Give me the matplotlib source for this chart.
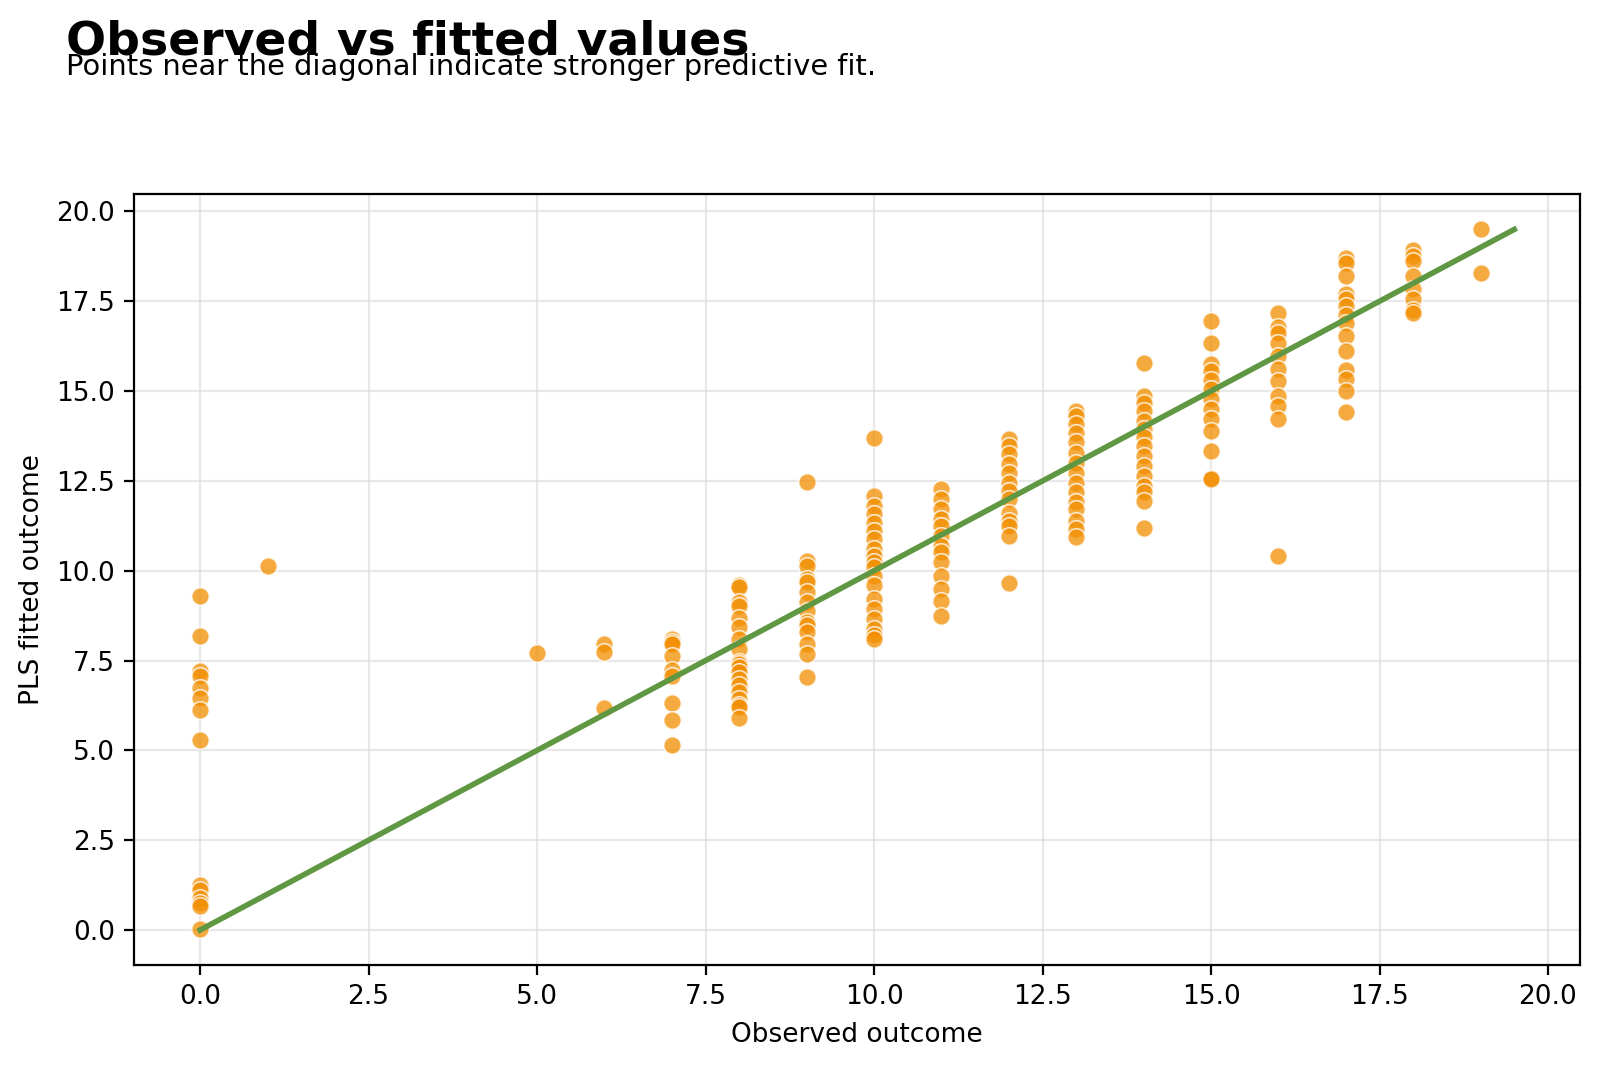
import numpy as np
import matplotlib
matplotlib.use("Agg")
import matplotlib.pyplot as plt

# fitted values, grouped by observed outcome
fit_0 = [9.29, 8.19, 7.2, 7.07, 6.74, 6.46, 6.13, 5.3, 1.25, 1.11, 0.88, 0.74, 0.66, 0.03]
fit_1 = [10.12]
fit_5 = [7.71]
fit_6 = [7.96, 7.73, 6.19]
fit_7 = [8.1, 8.01, 7.95, 7.64, 7.25, 7.08, 6.33, 5.84, 5.14]
fit_8 = [9.6, 9.54, 9.12, 9.03, 8.68, 8.43, 8.1, 7.83, 7.45, 7.4, 7.32, 7.18, 7.0,
         6.81, 6.62, 6.44, 6.26, 6.2, 5.9]
fit_9 = [12.48, 10.28, 10.14, 9.77, 9.7, 9.4, 9.12, 8.89, 8.57, 8.5, 8.29, 7.96,
         7.69, 7.04]
fit_10 = [13.7, 12.08, 11.8, 11.57, 11.34, 11.11, 10.88, 10.6, 10.42, 10.23, 10.1,
          9.86, 9.59, 9.21, 8.94, 8.66, 8.38, 8.2, 8.1]
fit_11 = [12.27, 11.99, 11.71, 11.43, 11.25, 10.97, 10.69, 10.51, 10.23, 9.86,
          9.49, 9.17, 8.75]
fit_12 = [13.66, 13.47, 13.24, 12.96, 12.73, 12.45, 12.22, 11.99, 11.62, 11.39,
          11.25, 10.97, 9.65]
fit_13 = [14.45, 14.31, 14.08, 13.84, 13.57, 13.29, 13.01, 12.73, 12.45, 12.18,
          11.9, 11.71, 11.39, 11.16, 10.93]
fit_14 = [15.79, 14.86, 14.68, 14.45, 14.17, 13.94, 13.71, 13.47, 13.2, 12.92,
          12.64, 12.36, 12.18, 11.93, 11.2]
fit_15 = [16.95, 16.34, 15.74, 15.55, 15.32, 15.05, 14.77, 14.49, 14.21, 13.89,
          13.33, 12.57, 12.55]
fit_16 = [17.18, 16.78, 16.62, 16.35, 15.98, 15.61, 15.29, 14.87, 14.58, 14.21, 10.42]
fit_17 = [18.7, 18.57, 18.19, 17.69, 17.55, 17.36, 17.13, 16.9, 16.53, 16.11,
          15.6, 15.33, 15.0, 14.42]
fit_18 = [18.93, 18.75, 18.61, 18.19, 17.83, 17.55, 17.27, 17.18]
fit_19 = [19.5, 18.29]

groups = {0: fit_0, 1: fit_1, 5: fit_5, 6: fit_6, 7: fit_7, 8: fit_8, 9: fit_9,
          10: fit_10, 11: fit_11, 12: fit_12, 13: fit_13, 14: fit_14, 15: fit_15,
          16: fit_16, 17: fit_17, 18: fit_18, 19: fit_19}

observed = np.concatenate([[k] * len(v) for k, v in groups.items()])
fitted = np.concatenate([v for v in groups.values()])

line_lo, line_hi = 0.0, 19.5

fig, ax = plt.subplots(figsize=(8, 5.34), dpi=200)
fig.subplots_adjust(left=0.084, right=0.9875, top=0.818, bottom=0.0964)

ax.scatter(observed, fitted, s=40, color="#f28e00", alpha=0.75,
           edgecolor="white", linewidth=0.6, zorder=3)
ax.plot([line_lo, line_hi], [line_lo, line_hi], color="#5f9743", linewidth=2, zorder=4)

ax.grid(True, color="#d9d9d9", linewidth=0.8, alpha=0.6)
ax.set_axisbelow(True)
ax.set_xlabel("Observed outcome", fontsize=9.5)
ax.set_ylabel("PLS fitted outcome", fontsize=9.5)
ax.tick_params(labelsize=9.5)

fig.text(0.041, 0.982, "Observed vs fitted values", fontsize=17,
         fontweight="bold", va="top", ha="left")
fig.text(0.041, 0.950, "Points near the diagonal indicate stronger predictive fit.",
         fontsize=10.4, va="top", ha="left")

plt.savefig("out.png", dpi=200)
